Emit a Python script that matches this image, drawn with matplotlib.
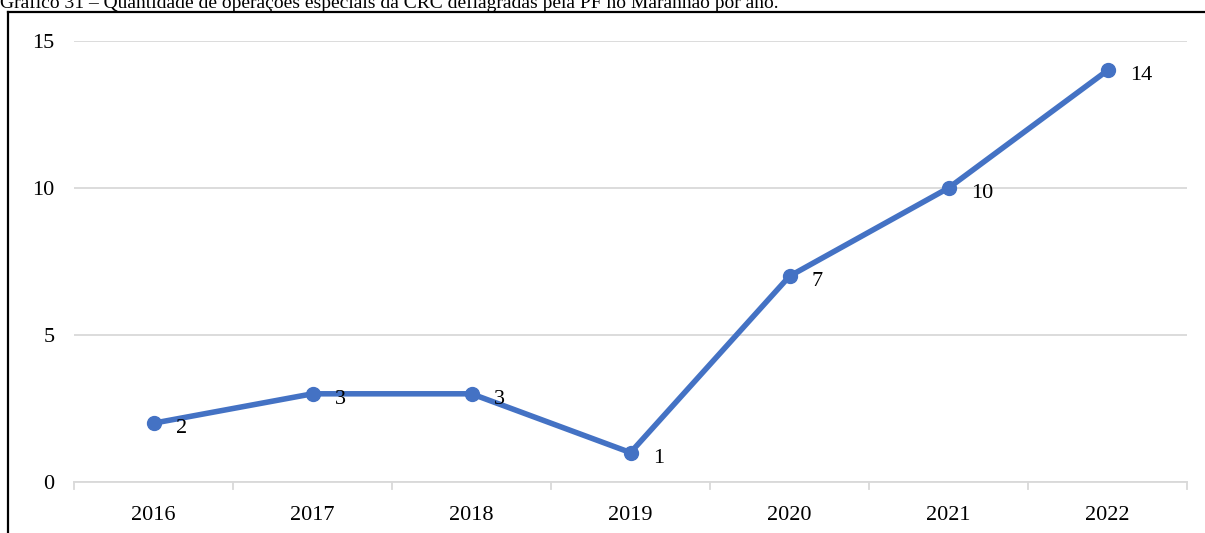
import matplotlib.pyplot as plt
from matplotlib.lines import Line2D

TITLE = ("Gráfico 31 – Quantidade de operações especiais da CRC "
         "deflagradas pela PF no Maranhão por ano.")
YEARS = ["2016", "2017", "2018", "2019", "2020", "2021", "2022"]
OPERATIONS = [2, 3, 3, 1, 7, 10, 14]

LINE_COLOR = "#4472C4"
GRID_COLOR = "#D9D9D9"

W, H, DPI = 1205, 533, 100
FS = 16


def main():
    plt.rcParams["font.family"] = ["Liberation Serif", "DejaVu Serif"]

    fig = plt.figure(figsize=(W / DPI, H / DPI), dpi=DPI)
    ax = fig.add_axes([74 / W, 1 - 482 / H, (1187 - 74) / W, (482 - 41) / H])

    x = list(range(len(YEARS)))
    ax.plot(x, OPERATIONS, color=LINE_COLOR, linewidth=4,
            marker="o", markersize=10, solid_capstyle="round", zorder=3)

    for xi, v in zip(x, OPERATIONS):
        ax.annotate(str(v), (xi, v), xytext=(16, -4), textcoords="offset points",
                    ha="left", va="center", fontsize=FS, color="black")

    ax.set_xlim(-0.5, len(YEARS) - 0.5)
    ax.set_ylim(0, 15)
    ax.set_yticks([0, 5, 10, 15])
    ax.set_xticks(x)
    ax.set_xticklabels(YEARS)
    ax.yaxis.grid(True, color=GRID_COLOR, linewidth=1.3)
    ax.set_axisbelow(True)

    for side in ("top", "right", "left"):
        ax.spines[side].set_visible(False)
    ax.spines["bottom"].set_color(GRID_COLOR)
    ax.spines["bottom"].set_linewidth(1.3)

    # ticks between categories, drawn as separators below the axis
    ax.tick_params(axis="x", length=0, pad=17, labelsize=FS)
    ax.tick_params(axis="y", length=0, pad=14, labelsize=FS)
    for b in [i - 0.5 for i in range(len(YEARS) + 1)]:
        ax.plot([b, b], [0, -0.23], color=GRID_COLOR, linewidth=1.3,
                clip_on=False, zorder=1)

    # outer frame of the figure box
    fig.add_artist(Line2D([8 / W, 8 / W], [0, 1 - 12 / H],
                          transform=fig.transFigure, color="black", linewidth=1.6))
    fig.add_artist(Line2D([8 / W, 1], [1 - 12 / H, 1 - 12 / H],
                          transform=fig.transFigure, color="black", linewidth=1.6))

    fig.text(0, 1 - 8 / H, TITLE, ha="left", va="baseline", fontsize=14,
             color="black")

    fig.savefig("out.png", dpi=DPI)


if __name__ == "__main__":
    main()
